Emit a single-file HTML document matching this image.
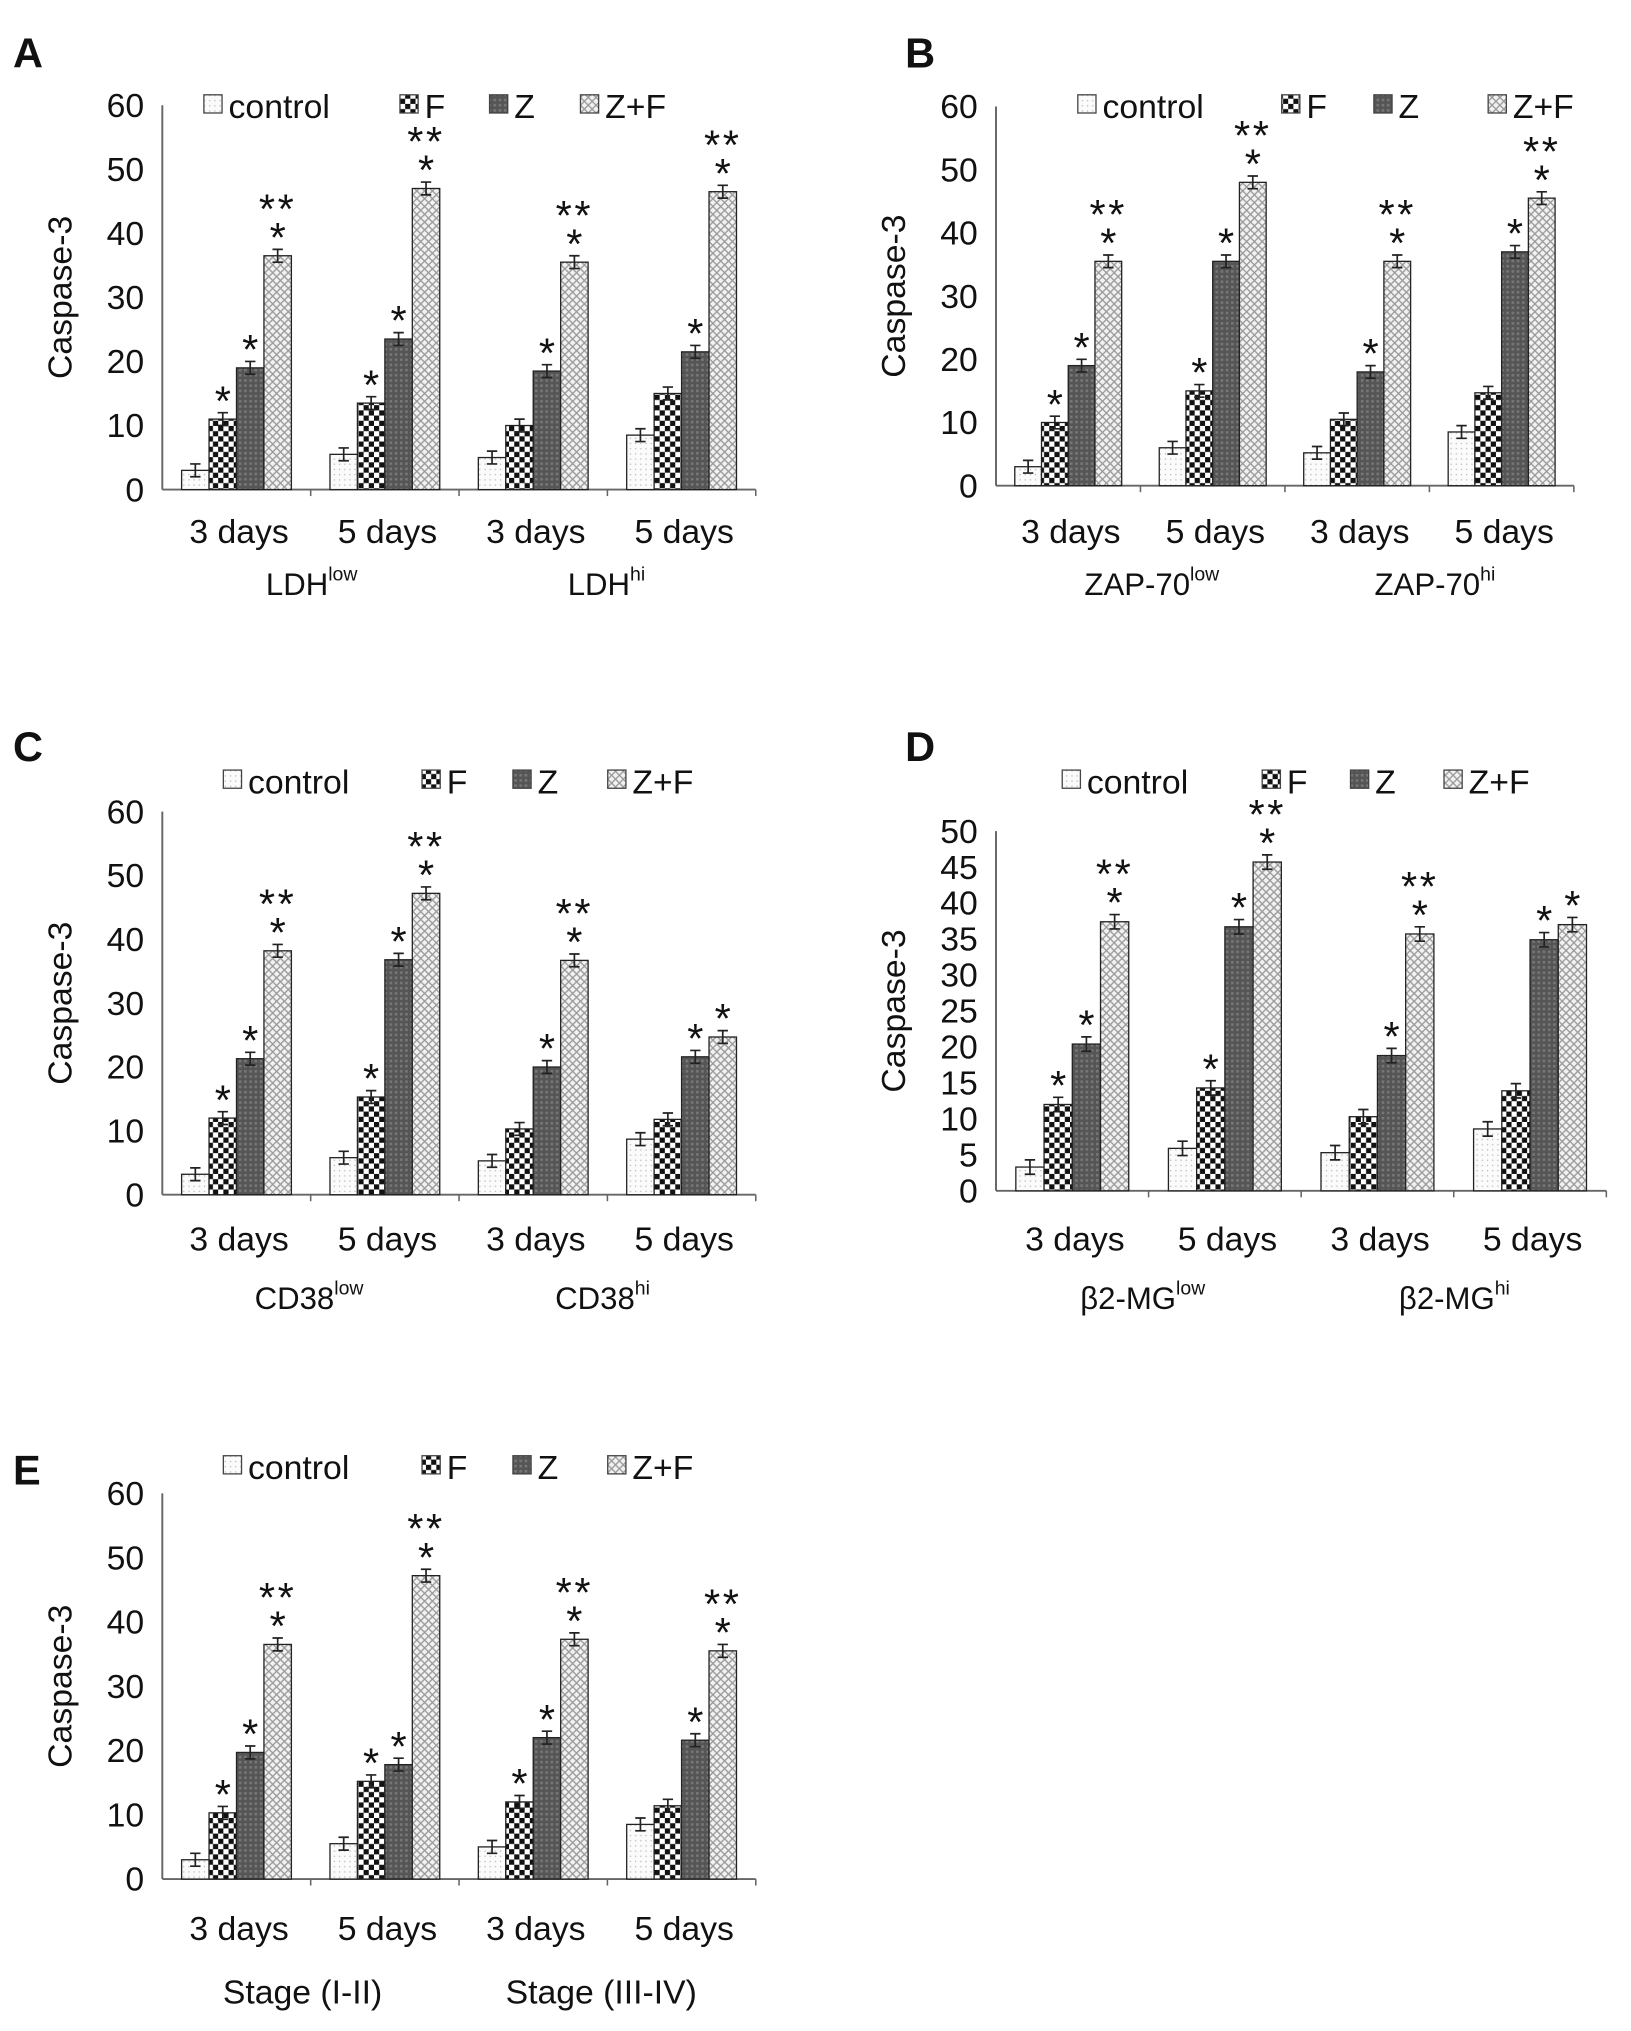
<!DOCTYPE html>
<html><head><meta charset="utf-8"><style>
html,body{margin:0;padding:0;background:#fff}
svg{display:block}
text{font-family:"Liberation Sans","DejaVu Sans",sans-serif;fill:#111}
</style></head><body>
<svg id="fig" width="1631" height="2031" viewBox="0 0 1256 1564" xmlns="http://www.w3.org/2000/svg">
<defs>
<pattern id="pCtrl" width="4" height="4" patternUnits="userSpaceOnUse"><rect width="4" height="4" fill="#fbfbfb"/><rect x="1" y="1" width="1" height="1" fill="#bbb"/></pattern>
<pattern id="pF" width="8" height="8" patternUnits="userSpaceOnUse"><rect width="8" height="8" fill="#fff"/><rect width="4" height="4" fill="#111"/><rect x="4" y="4" width="4" height="4" fill="#111"/></pattern>
<pattern id="pZ" width="4" height="4" patternUnits="userSpaceOnUse"><rect width="4" height="4" fill="#555"/><rect x="0" y="0" width="2" height="2" fill="#777"/></pattern>
<pattern id="pZF" width="6" height="6" patternUnits="userSpaceOnUse"><rect width="6" height="6" fill="#f2f2f2"/><path d="M0 0L6 6M6 0L0 6" stroke="#999" stroke-width="1"/></pattern>
</defs>
</svg>
<script>
const seriesNames=["control","F","Z","Z+F"];
const catLabels=["3 days","5 days","3 days","5 days"];
const aCtrl=[3,5.5,5,8.5], aF=[11,13.5,10,15], aZ=[19,23.5,18.5,21.5], aZF=[36.5,47,35.5,46.5];
const bCtrl=[3,6,5.2,8.5], bF=[10,15,10.5,14.7], bZ=[19,35.5,18,37], bZF=[35.5,48,35.5,45.5];
const cCtrl=[3.2,5.8,5.3,8.7], cF=[12,15.3,10.3,11.8], cZ=[21.3,36.8,20,21.6], cZF=[38.2,47.2,36.7,24.7];
const dCtrl=[3.3,5.9,5.3,8.6], dF=[12,14.3,10.3,13.9], dZ=[20.4,36.7,18.8,34.9], dZF=[37.4,45.7,35.7,37];
const eCtrl=[3,5.5,5,8.5], eF=[10.3,15.2,12,11.4], eZ=[19.7,17.8,22,21.6], eZF=[36.5,47.2,37.3,35.5];
// stars: 0 none, 1 "*", 2 "**" over "*"
const aStars=[[0,0,0,0],[1,1,0,0],[1,1,1,1],[2,2,2,2]];
const bStars=[[0,0,0,0],[1,1,0,0],[1,1,1,1],[2,2,2,2]];
const cStars=[[0,0,0,0],[1,1,0,0],[1,1,1,1],[2,2,2,1]];
const dStars=[[0,0,0,0],[1,1,0,0],[1,1,1,1],[2,2,2,1]];
const eStars=[[0,0,0,0],[1,1,1,0],[1,1,1,1],[2,2,2,2]];
const yTicksA=[0,10,20,30,40,50,60];
const yTicksD=[0,5,10,15,20,25,30,35,40,45,50];

const NS="http://www.w3.org/2000/svg";
const svg=document.getElementById('fig');
const fills=["url(#pCtrl)","url(#pF)","url(#pZ)","url(#pZF)"];
function mk(tag,attrs,parent){const e=document.createElementNS(NS,tag);for(const k in attrs)e.setAttribute(k,attrs[k]);(parent||svg).appendChild(e);return e;}

const panels=[
 {id:"a",letter:"A",lx:10,ly:52,x0:125,x1:582,y0:377,yTop:81,max:60,ticks:yTicksA,data:[aCtrl,aF,aZ,aZF],stars:aStars,legY:82,legX:[157,308,377,447],groups:["LDH","LDH"],sup:["low","hi"],gx:[240,467],catY:418,grpY:458},
 {id:"b",letter:"B",lx:697,ly:52,x0:767,x1:1212,y0:374,yTop:82,max:60,ticks:yTicksA,data:[bCtrl,bF,bZ,bZF],stars:bStars,legY:82,legX:[830,987,1058,1146],groups:["ZAP-70","ZAP-70"],sup:["low","hi"],gx:[887,1105],catY:418,grpY:458},
 {id:"c",letter:"C",lx:10,ly:586,x0:125,x1:582,y0:920,yTop:625,max:60,ticks:yTicksA,data:[cCtrl,cF,cZ,cZF],stars:cStars,legY:602,legX:[172,325,395,468],groups:["CD38","CD38"],sup:["low","hi"],gx:[238,464],catY:963,grpY:1008},
 {id:"d",letter:"D",lx:697,ly:586,x0:767,x1:1237,y0:917,yTop:640,max:50,ticks:yTicksD,data:[dCtrl,dF,dZ,dZF],stars:dStars,legY:602,legX:[818,972,1040,1112],groups:["β2-MG","β2-MG"],sup:["low","hi"],gx:[880,1120],catY:963,grpY:1008},
 {id:"e",letter:"E",lx:10,ly:1143,x0:125,x1:582,y0:1447,yTop:1150,max:60,ticks:yTicksA,data:[eCtrl,eF,eZ,eZF],stars:eStars,legY:1130,legX:[172,325,395,468],groups:["Stage (I-II)","Stage (III-IV)"],sup:["",""],gx:[233,463],catY:1494,grpY:1543}
];

panels.forEach(p=>{
 const g=mk('g',{});
 
 
 const L=mk('text',{x:p.lx,y:p.ly,'font-size':32,'font-weight':'bold'},g);L.textContent=p.letter;
 
 
 const yS=v=>p.y0-(v/p.max)*(p.y0-p.yTop);
 const gw=(p.x1-p.x0)/4;
 const ya=mk('line',{x1:p.x0,y1:p.yTop,x2:p.x0,y2:p.y0,stroke:'#666','stroke-width':1.5},g);
 
 
 const xa=mk('line',{x1:p.x0,y1:p.y0,x2:p.x1,y2:p.y0,stroke:'#666','stroke-width':1.5},g);
 
 
 for(let i=1;i<=4;i++){mk('line',{x1:p.x0+gw*i,y1:p.y0,x2:p.x0+gw*i,y2:p.y0+5,stroke:'#666','stroke-width':1.2},g);}
 p.ticks.forEach(t=>{
  const tt=mk('text',{x:p.x0-14,y:yS(t)+9,'font-size':26,'text-anchor':'end'},g);tt.textContent=t;
  
  
 });
 const yt=mk('text',{x:0,y:0,'font-size':26,'text-anchor':'middle',transform:`translate(${p.x0-70},${(p.y0+p.yTop)/2}) rotate(-90)`},g);
 yt.textContent="Caspase-3";
 
 
 p.data.forEach((ser,si)=>{
  ser.forEach((v,ci)=>{
   const bw=gw*0.185;
   const bx=p.x0+gw*ci+gw*0.13+si*bw;
   const r=mk('rect',{x:bx,y:yS(v),width:bw,height:p.y0-yS(v),fill:fills[si],stroke:'#222','stroke-width':1},g);
   
   
   const cx=bx+bw/2, e=1;
   mk('path',{d:`M${cx} ${yS(v+e)}V${yS(v-e)}M${cx-4} ${yS(v+e)}H${cx+4}M${cx-4} ${yS(v-e)}H${cx+4}`,stroke:'#222','stroke-width':1.3,fill:'none'},g);
   const s=p.stars[si][ci];
   if(s>=1){const st=mk('text',{x:cx,y:yS(v+e)+2,'font-size':32,'text-anchor':'middle'},g);st.textContent="*";
    
    }
   if(s===2){const st2=mk('text',{x:cx,y:yS(v+e)-20,'font-size':32,'text-anchor':'middle','letter-spacing':2},g);st2.textContent="**";
    
    }
  });
 });
 catLabels.forEach((c,ci)=>{
  const t=mk('text',{x:p.x0+gw*ci+gw*0.5+2,y:p.catY,'font-size':26,'text-anchor':'middle'},g);t.textContent=c;
  
  
 });
 p.groups.forEach((gn,gi)=>{
  const t=mk('text',{x:p.gx[gi],y:p.grpY,'font-size':p.sup[gi]?24:26,'text-anchor':'middle'},g);
  t.textContent=gn;
  if(p.sup[gi]){const ts=mk('tspan',{'font-size':15,dy:-11},t);ts.textContent=p.sup[gi];}
  
  
 });
 seriesNames.forEach((n,si)=>{
  const lg=mk('g',{},g);
  
  
  mk('rect',{x:p.legX[si],y:p.legY-9,width:14,height:14,fill:fills[si],stroke:'#444','stroke-width':1},lg);
  const t=mk('text',{x:p.legX[si]+19,y:p.legY+9,'font-size':26},lg);t.textContent=n;
 });
});
</script>
</body></html>
